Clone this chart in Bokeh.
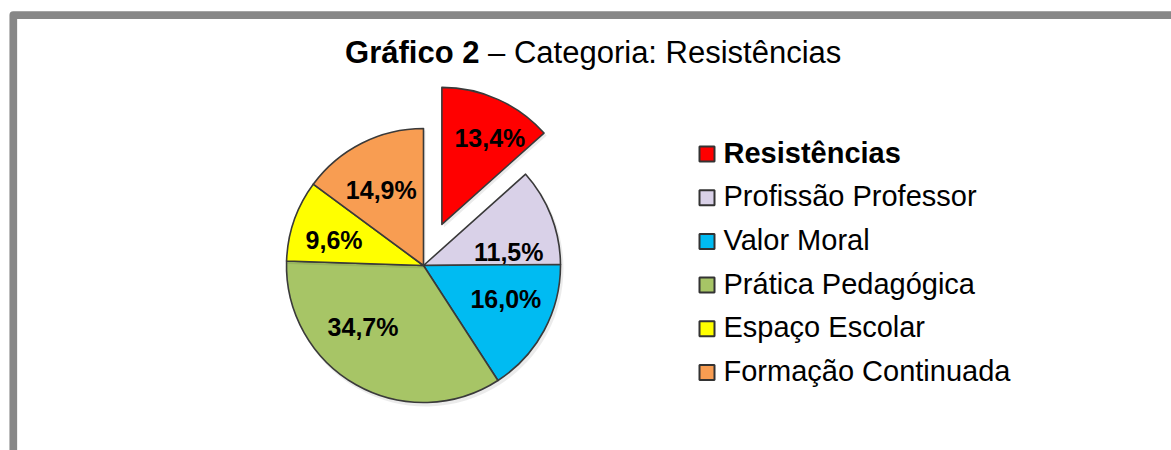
import numpy as np
from bokeh.plotting import figure
from bokeh.models import Range1d
from bokeh.core.properties import value
from bokeh.embed import file_html
from bokeh.resources import INLINE

# ---- data ----
categories = ["Resistências", "Profissão Professor", "Valor Moral",
              "Prática Pedagógica", "Espaço Escolar", "Formação Continuada"]
percentages = [13.4, 11.5, 16.0, 34.7, 9.6, 14.9]
pct_labels = ["13,4%", "11,5%", "16,0%", "34,7%", "9,6%", "14,9%"]
colors = ["#FF0000", "#D9D1E8", "#00BBF2", "#A7C566", "#FFFF00", "#F89D52"]
exploded = [True, False, False, False, False, False]
bold_legend = [True, False, False, False, False, False]
title_bold = "Gráfico 2"
title_rest = "– Categoria: Resistências"

# ---- layout ----
W, H = 1171, 450
FONT = value("Liberation Sans")


def sx(x):
    return x


def sy(y):
    return H - y


p = figure(width=W, height=H, x_range=Range1d(0, W), y_range=Range1d(0, H),
           output_backend="svg", toolbar_location=None, min_border=0,
           x_axis_type=None, y_axis_type=None)
p.grid.visible = False
p.outline_line_color = None
p.background_fill_color = "white"
p.border_fill_color = "white"

# frame
p.quad(left=sx(12.8), right=W + 60, top=sy(14.6), bottom=-60,
       fill_color=None, line_color="#878787", line_width=7.7, line_join="round")

# title
split_x = sx(479)
p.text(x=[split_x], y=[sy(51.5)], text=[title_bold], text_font=FONT,
       text_font_size="31px", text_font_style="bold", text_align="right",
       text_baseline="middle", text_color="black")
p.text(x=[split_x + 8.6], y=[sy(51.5)], text=[title_rest], text_font=FONT,
       text_font_size="31px", text_align="left",
       text_baseline="middle", text_color="black")

# pie
cx, cy, R = sx(423), sy(265), 137
explode_dist = 45
label_frac = [0.72, 0.63, 0.65, 0.63, 0.68, 0.63]
label_nudge = [-5, -12, 6, -15, 3, 2.5]

fr = np.array(percentages) / sum(percentages)
ends = 90 - np.cumsum(fr) * 360
starts = np.concatenate([[90], ends[:-1]])

for i in range(len(categories)):
    a0, a1 = starts[i], ends[i]
    mid = np.radians((a0 + a1) / 2)
    ox = cx + (explode_dist * np.cos(mid) if exploded[i] else 0)
    oy = cy + (explode_dist * np.sin(mid) if exploded[i] else 0)
    # soft shadow
    p.wedge(x=[ox + 2], y=[oy - 3], radius=R + 1, start_angle=a1, end_angle=a0,
            start_angle_units="deg", end_angle_units="deg",
            fill_color="#000000", fill_alpha=0.08, line_color=None)
    p.wedge(x=[ox], y=[oy], radius=R, start_angle=a1, end_angle=a0,
            start_angle_units="deg", end_angle_units="deg",
            fill_color=colors[i], line_color="#3A3A3A", line_width=1.6,
            line_join="round")
    la = mid + np.radians(label_nudge[i])
    lx = ox + R * label_frac[i] * np.cos(la)
    ly = oy + R * label_frac[i] * np.sin(la)
    p.text(x=[lx], y=[ly], text=[pct_labels[i]], text_font=FONT,
           text_font_size="25px", text_font_style="bold", text_align="center",
           text_baseline="middle", text_color="black")

# legend
row0, step = 153.5, 43.7
for i, cat in enumerate(categories):
    yc = row0 + step * i
    p.rect(x=[sx(706.5)], y=[sy(yc)], width=15, height=15,
           fill_color=colors[i], line_color="#333333", line_width=2)
    p.text(x=[sx(723)], y=[sy(yc - 1.5)], text=[cat], text_font=FONT,
           text_font_size="29px",
           text_font_style="bold" if bold_legend[i] else "normal",
           text_align="left", text_baseline="middle", text_color="black")

open("out.html", "w").write(file_html(p, INLINE))
